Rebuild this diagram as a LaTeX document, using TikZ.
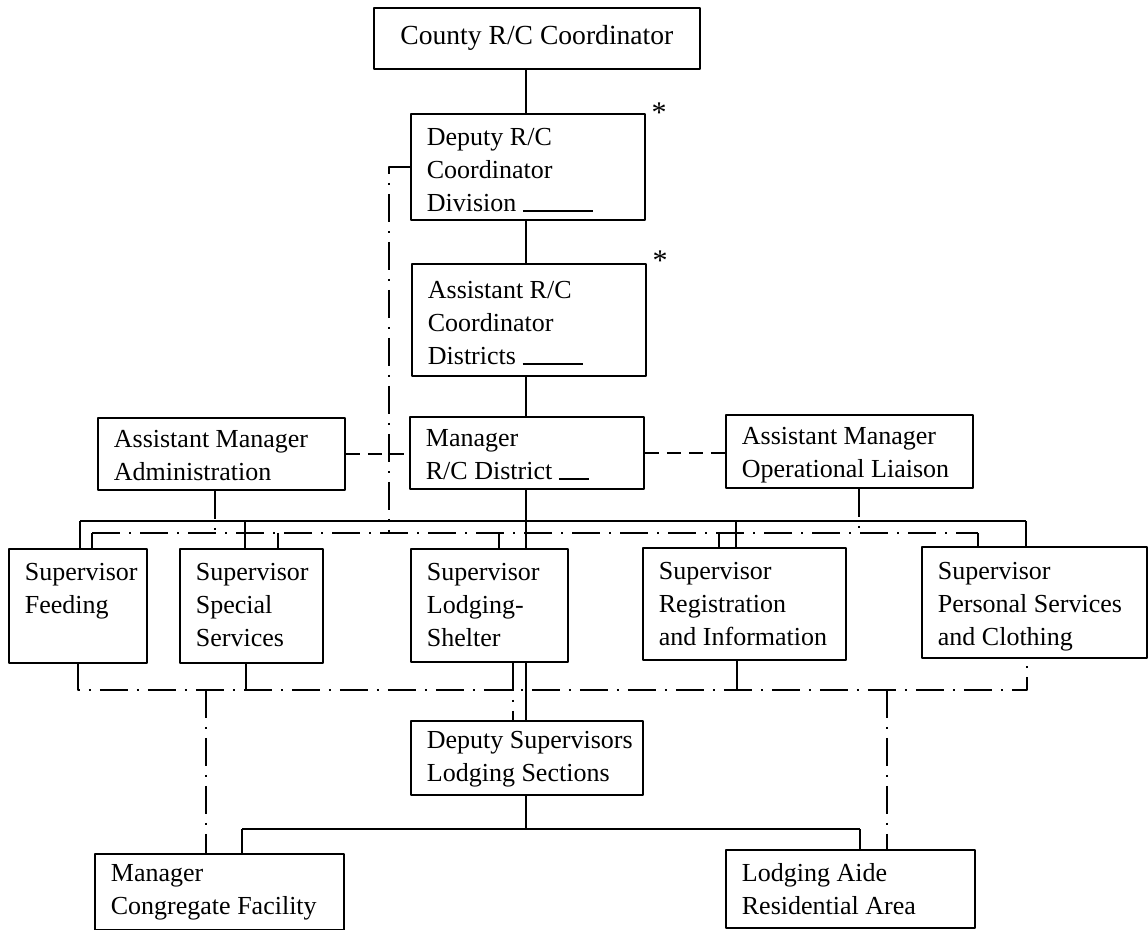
\documentclass[tikz,border=0pt]{standalone}
\usepackage{fontspec}
\setmainfont{Liberation Serif}
\usetikzlibrary{calc}
\begin{document}
\begin{tikzpicture}[x=0.5pt,y=-0.5pt,line width=0.9pt,line join=round,
	font=\fontsize{13pt}{16.5pt}\selectfont,
	box/.style n args={3}{draw,anchor=north west,align=flush left,inner xsep=8pt,inner ysep=0pt,
		text width=#1,text height=#2,text depth=#3},
	dashdot/.style={dash pattern=on 14pt off 4.5pt on 1pt off 4.5pt},
	link/.style={dash pattern=on 7pt off 4pt}]
	\useasboundingbox (0,0) rectangle (1148,930);
	\path
	(526,0) coordinate (spine)
	(0,521) coordinate (bus)
	(0,533) coordinate (dd)
	(0,690) coordinate (ld)
	(0,829) coordinate (lb)
	;
	% boxes
	\node[draw,anchor=north west,minimum width=163pt,minimum height=30.5pt,inner sep=0pt,font=\fontsize{13.8pt}{16.5pt}\selectfont] (county) at (373,7) {County R/C Coordinator};
	\node[box={101pt}{16pt}{37pt}] (dep) at (410,113) {Deputy R/C\\Coordinator\\Division \rule{35pt}{0.7pt}};
	\node[box={101pt}{17.5pt}{38.5pt}] (asst) at (411,263) {Assistant R/C\\Coordinator\\Districts \rule{30pt}{0.7pt}};
	\node[box={101pt}{15pt}{21pt}] (mgr) at (409,416) {Manager\\\mbox{R/C District \rule{15pt}{0.7pt}}};
	\node[box={107.5pt}{15pt}{21pt}] (adm) at (97,417) {\mbox{Assistant Manager}\\Administration};
	\node[box={107.5pt}{15pt}{21.5pt}] (op) at (725,414) {\mbox{Assistant Manager}\\\mbox{Operational Liaison}};
	\node[box={53pt}{16pt}{41pt}] (feed) at (8,548) {Supervisor\\Feeding};
	\node[box={55.5pt}{16pt}{41pt}] (spec) at (179,548) {Supervisor\\Special\\Services};
	\node[box={62.5pt}{16pt}{40.5pt}] (lodg) at (410,548) {Supervisor\\Lodging-\\Shelter};
	\node[box={85.5pt}{16pt}{40pt}] (regi) at (642,547) {Supervisor\\Registration\\\mbox{and Information}};
	\node[box={96.5pt}{16.5pt}{39pt}] (pers) at (921,546) {Supervisor\\\mbox{Personal Services}\\\mbox{and Clothing}};
	\node[box={100pt}{14pt}{23pt}] (dsup) at (410,720) {\mbox{Deputy Supervisors}\\\mbox{Lodging Sections}};
	\node[box={108.5pt}{14pt}{24pt}] (cong) at (94,853) {Manager\\\mbox{Congregate Facility}};
	\node[box={108.5pt}{16pt}{23pt}] (aide) at (725,849) {\mbox{Lodging Aide}\\\mbox{Residential Area}};
	\node[font=\fontsize{15pt}{16pt}\selectfont] (ast1) at (659,113) {*};
	\node[font=\fontsize{15pt}{16pt}\selectfont] (ast2) at (660,261) {*};
	% line of command
	\draw (county.south -| spine) -- (dep.north -| spine);
	\draw (dep.south -| spine) -- (asst.north -| spine);
	\draw (asst.south -| spine) -- (mgr.north -| spine);
	\draw (mgr.south -| spine) -- (lodg.north -| spine);
	\draw (80,0 |- bus) -- (1026,0 |- bus);
	\foreach \n/\x in {feed/80,spec/245,regi/736,pers/1026}
	\draw (\n.north -| \x,0) -- (\x,0 |- bus);
	\draw (lodg.south -| spine) -- (dsup.north -| spine);
	\draw (dsup.south -| spine) -- (spine |- lb);
	\draw (242,0 |- lb) -- (860,0 |- lb);
	\foreach \n/\x in {cong/242,aide/860}
	\draw (\n.north -| \x,0) -- (\x,0 |- lb);
	% staff links
	\draw[link] (adm.east) -- (adm.east -| mgr.west);
	\draw[link] (mgr.east) -- (mgr.east -| op.west);
	% coordination (upper)
	\draw[dashdot] (dep.west) -| (389,0 |- dd);
	\draw[dashdot] (adm.south -| 215,0) -- (215,0 |- dd);
	\draw[dashdot] (op.south -| 859,0) -- (859,0 |- dd);
	\draw[dashdot] (92,0 |- dd) -- (978,0 |- dd);
	\foreach \n/\x in {feed/92,spec/278,lodg/499,regi/719,pers/978}
	\draw[dashdot] (\x,0 |- dd) -- (\n.north -| \x,0);
	% coordination (lower)
	\draw[dashdot] (feed.south -| 78,0) -- (78,0 |- ld) -- (1027,0 |- ld) -- (pers.south -| 1027,0);
	\foreach \n/\x in {spec/246,regi/737}
	\draw[dashdot] (\n.south -| \x,0) -- (\x,0 |- ld);
	\draw[dashdot] (lodg.south -| 513,0) -- (dsup.north -| 513,0);
	\draw[dashdot] (206,0 |- ld) -- (cong.north -| 206,0);
	\draw[dashdot] (887,0 |- ld) -- (aide.north -| 887,0);
\end{tikzpicture}
\end{document}
